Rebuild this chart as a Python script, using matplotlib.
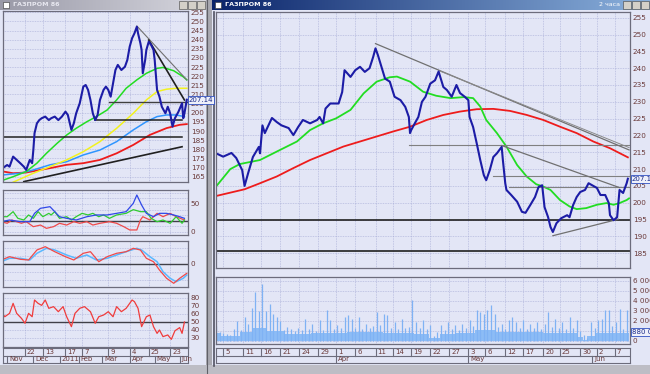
import numpy as np
import matplotlib
matplotlib.use('Agg')
import matplotlib.pyplot as plt
from matplotlib.patches import Rectangle
from matplotlib.colors import LinearSegmentedColormap
from matplotlib.transforms import offset_copy

# ---------------- data: small window (daily) ----------------
l_days = [2, 6, 8, 11, 14, 17, 20, 22, 25, 27, 28, 29, 31, 33, 35, 38, 41, 43, 46, 49, 52, 55, 57, 60,
          62, 64, 67, 70, 72, 74, 76, 78, 80, 82, 84, 87, 89, 91, 93, 95, 97, 99, 102, 105, 107, 109,
          111, 113, 115, 116, 118, 119, 120, 122, 123, 125, 127, 129, 130, 132, 134, 136, 139, 141,
          143, 145, 147, 150, 153, 154, 155, 157]
l_close = [169.6, 171.4, 170.5, 176.0, 174.2, 172.4, 170.5, 168.7, 174.2, 172.4, 179.6, 188.8, 194.2,
           196.0, 197.0, 197.9, 196.0, 197.0, 197.9, 196.0, 197.9, 200.6, 198.8, 190.6, 194.2, 199.7,
           205.2, 214.3, 215.2, 212.5, 207.0, 199.7, 196.0, 198.8, 207.0, 212.5, 214.3, 212.5, 208.8,
           216.1, 223.4, 226.2, 223.4, 225.2, 228.9, 236.2, 240.8, 243.5, 247.1, 243.5, 238.0, 234.4,
           221.6, 228.9, 234.4, 238.9, 237.1, 234.4, 228.9, 212.5, 208.8, 203.3, 199.7, 203.3, 199.7,
           192.4, 197.0, 200.6, 205.2, 197.0, 199.7, 207.14]

l_green_d = [3, 11, 22, 31, 39, 48, 56, 64, 73, 81, 90, 98, 106, 115, 123, 132, 137, 146, 154, 157]
l_green = [163.2, 165.0, 167.8, 172.4, 177.8, 183.3, 187.8, 191.5, 195.1, 197.9, 201.5, 207.0, 213.4,
           218.0, 221.6, 224.3, 224.8, 223.0, 219.7, 218.0]
l_yellow_d = [11, 28, 42, 56, 70, 84, 98, 112, 123, 132, 140, 148, 157]
l_yellow = [162.0, 166.9, 170.5, 174.2, 178.7, 184.2, 191.5, 199.7, 207.0, 211.6, 212.9, 213.4, 213.4]
l_blue_d = [3, 17, 28, 42, 56, 70, 84, 98, 112, 123, 132, 140, 148, 155]
l_blue = [166.0, 166.9, 168.7, 171.5, 173.2, 176.9, 179.6, 184.2, 190.6, 195.1, 197.9, 198.8, 198.8, 197.9]
l_red_d = [3, 11, 22, 42, 56, 70, 84, 98, 112, 126, 140, 151, 157]
l_red = [167.8, 166.9, 167.3, 169.7, 171.5, 172.4, 174.2, 177.8, 182.4, 187.9, 191.6, 193.4, 193.8]

l_adx_d = [1, 8, 17, 25, 29, 34, 42, 46, 50, 56, 64, 73, 81, 90, 98, 106, 112, 115, 119, 123, 129, 134,
           140, 146, 151, 155]
l_adx = [18.4, 21.4, 18.4, 18.4, 33.3, 42.3, 45.2, 36.3, 27.3, 24.4, 21.4, 27.3, 30.4, 30.4, 33.3, 36.3,
         51.2, 66.1, 48.2, 33.3, 27.3, 33.3, 33.3, 30.4, 27.3, 24.4]
l_pdi_d = [1, 6, 11, 15, 20, 24, 28, 32, 36, 41, 43, 46, 50, 56, 60, 64, 69, 74, 78, 83, 87, 92, 98, 106,
           112, 118, 123, 127, 132, 137, 143, 148, 153, 155]
l_pdi = [27.3, 27.3, 36.3, 24.4, 21.4, 30.4, 24.4, 36.3, 27.3, 33.3, 30.4, 36.3, 24.4, 27.3, 21.4, 27.3,
         33.3, 30.4, 33.3, 27.3, 30.4, 24.4, 30.4, 33.3, 39.9, 36.3, 36.3, 24.4, 18.4, 21.4, 15.5, 27.3,
         15.5, 21.4]
l_mdi_d = [1, 6, 10, 14, 18, 22, 28, 34, 39, 45, 50, 56, 62, 67, 73, 78, 84, 92, 98, 104, 109, 115, 118,
           120, 126, 132, 137, 143, 148, 155]
l_mdi = [18.4, 15.5, 21.4, 18.4, 15.5, 18.4, 9.5, 12.4, 6.5, 9.5, 15.5, 12.4, 18.4, 15.5, 18.4, 12.4,
         15.5, 18.4, 15.5, 9.5, 3.6, 3.6, 21.4, 27.3, 21.4, 33.3, 27.3, 33.3, 27.3, 21.4]

l_sig_d = [1, 8, 17, 25, 31, 39, 46, 56, 64, 73, 81, 90, 98, 106, 115, 119, 126, 132, 137, 143, 148, 154, 157]
l_sig = [2.3, 5.7, 5.7, 4.0, 10.7, 15.7, 14.0, 9.0, 5.7, 9.0, 4.0, 5.7, 9.0, 12.3, 15.7, 14.0, 7.3, 2.3,
         -7.7, -14.3, -17.7, -14.3, -11.0]
l_macd_d = [1, 8, 17, 24, 31, 38, 46, 55, 62, 70, 76, 83, 90, 98, 106, 112, 118, 123, 129, 134, 140, 146,
            151, 157]
l_macd = [4.0, 7.3, 4.7, 4.0, 14.0, 17.3, 12.3, 7.3, 4.0, 10.7, 12.3, 2.3, 7.3, 10.7, 12.3, 15.7, 14.0,
          5.7, 2.3, -6.0, -14.3, -19.3, -14.3, -9.3]

l_rsi_d = [1, 4, 8, 11, 14, 18, 21, 24, 27, 29, 32, 35, 38, 41, 45, 49, 53, 56, 60, 63, 67, 71, 76, 80,
           83, 87, 91, 95, 98, 102, 106, 111, 113, 116, 119, 123, 126, 129, 132, 134, 137, 141, 144, 147,
           151, 153, 155]
l_rsi = [62.9, 56.6, 60.8, 73.3, 60.8, 54.6, 48.4, 60.8, 56.6, 77.5, 73.3, 70.8, 77.5, 67.1, 69.2, 62.9,
         69.2, 56.6, 44.2, 60.8, 67.1, 69.2, 62.9, 48.4, 56.6, 58.7, 62.9, 56.6, 69.2, 62.9, 67.1, 77.5,
         75.4, 67.1, 44.2, 56.6, 58.7, 44.2, 35.8, 40.0, 31.7, 33.8, 28.3, 39.0, 43.0, 35.8, 50.0]

l_day_ticks = [21, 36, 55, 69, 91, 109, 125, 143]
l_day_labels = ['22', '13', '17', '7', '9', '4', '25', '23']
l_month_ticks = [6, 28, 50, 66, 86, 109, 130, 151]
l_month_labels = ['Nov', 'Dec', '2011', 'Feb', 'Mar', 'Apr', 'May', 'Jun']

# ---------------- data: big window (2-hour bars) ----------------
m_bar = [5, 11, 18, 22, 27, 29, 32, 36, 41, 42, 44, 46, 52, 56, 60, 66, 70, 74, 78, 84, 90, 92, 95, 97,
         101, 108, 111, 113, 118, 122, 126, 130, 134, 137, 139, 141, 144, 147, 151, 155, 160, 164, 167,
         168, 169, 172, 175, 178, 181, 185, 189, 192, 196, 199, 203, 207, 210, 214, 217, 218, 221, 224,
         227, 230, 232, 235, 238, 241, 245, 246, 248, 249, 253, 258, 262, 265, 269, 273, 276, 279, 281,
         284, 286, 288, 291, 295, 300, 302, 305, 308, 311, 315, 318, 321, 325, 328, 332, 335, 336, 339,
         342, 344, 347, 350, 351]
m_close = [214.7, 213.7, 214.8, 213.3, 209.7, 205.0, 208.8, 213.6, 216.6, 214.7, 223.0, 220.7, 225.2,
           224.0, 223.0, 222.2, 220.1, 222.5, 224.6, 223.6, 224.6, 225.5, 223.6, 228.0, 229.5, 229.5,
           232.9, 239.4, 237.4, 239.4, 240.4, 238.9, 240.0, 243.3, 245.9, 243.9, 240.4, 236.9, 236.0,
           231.5, 230.5, 228.5, 225.5, 220.7, 221.6, 223.6, 225.5, 230.0, 231.5, 235.4, 236.4, 239.0,
           234.4, 233.5, 231.5, 235.0, 232.6, 231.5, 230.5, 225.5, 222.5, 217.7, 212.7, 208.2, 206.7,
           209.7, 213.6, 214.7, 216.6, 212.7, 205.8, 203.8, 202.3, 200.3, 197.3, 197.0, 199.3, 201.7,
           204.7, 205.2, 198.7, 195.7, 192.8, 191.3, 193.9, 195.4, 196.3, 195.7, 199.3, 201.7, 203.2,
           203.8, 205.8, 205.2, 204.4, 202.3, 202.3, 199.9, 196.3, 194.8, 195.7, 203.8, 202.9, 205.8, 207.14]

m_green_b = [5, 17, 25, 42, 56, 73, 84, 95, 106, 118, 129, 140, 151, 157, 168, 179, 190, 202, 213, 221,
             227, 232, 241, 249, 258, 266, 274, 280, 286, 294, 302, 308, 316, 325, 333, 339, 344, 350, 352]
m_green = [204.8, 210.0, 211.5, 212.7, 215.2, 218.2, 221.6, 223.6, 225.1, 227.6, 232.5, 236.0, 237.3,
           237.5, 236.0, 233.0, 231.8, 231.1, 231.4, 231.1, 228.6, 224.6, 220.7, 216.7, 211.2, 207.8,
           205.5, 204.8, 203.8, 200.8, 198.9, 198.1, 198.4, 199.4, 199.9, 199.4, 199.9, 200.8, 201.3]
m_red_b = [5, 29, 42, 56, 70, 84, 98, 112, 126, 140, 154, 168, 182, 196, 210, 224, 238, 252, 266, 280,
           294, 308, 322, 336, 351]
m_red = [202.0, 204.0, 205.8, 207.8, 210.3, 212.7, 214.7, 216.7, 218.2, 219.7, 221.2, 222.6, 224.6,
         226.1, 227.1, 227.8, 227.9, 227.3, 226.1, 224.6, 222.6, 220.7, 218.2, 216.2, 213.5]

# volume, thousands of shares
vol_bar = list(range(5, 351, 3))
vol = [1500, 900, 800, 700, 600, 1200, 2000, 1100, 2400, 1700, 3300, 4850, 3000, 5680, 3000, 3680,
       2680, 2350, 2000, 1100, 1350, 1200, 1000, 1300, 1100, 2180, 1200, 1680, 1000, 2020, 1100, 3020,
       2020, 1200, 1520, 1300, 2350, 2520, 2180, 1300, 2350, 1200, 1680, 1300, 1500, 2850, 1600, 2680,
       2520, 1300, 1850, 1200, 2180, 1300, 1400, 4020, 1850, 1300, 2020, 1200, 1520, 500, 900, 1520,
       1100, 1850, 1200, 1520, 1100, 1680, 1300, 2020, 1500, 3020, 2850, 2680, 3020, 3520, 2680, 1400,
       1680, 1200, 2020, 2350, 1850, 1300, 2020, 1200, 1680, 1300, 1850, 1200, 1680, 2850, 1400, 2180,
       1300, 1850, 1200, 2350, 1300, 2020, 1000, 600, 300, 1850, 1300, 2020, 2180, 3020, 3020, 1500,
       1850, 3180, 1200, 3020]
vol_base_b = [5, 12, 20, 30, 40, 55, 70, 100, 130, 160, 182, 186, 190, 196, 215, 230, 250, 270, 290,
              306, 312, 315, 318, 330, 345, 352]
vol_base = [800, 500, 450, 900, 1300, 1000, 700, 800, 850, 800, 650, 250, 300, 700, 800, 1100, 900,
            850, 800, 750, 400, 100, 500, 800, 750, 800]
last_price = 207.14
last_volume = 880

m_day_ticks = [11, 28, 43, 59, 75, 91, 106, 122, 139, 154, 169, 185, 201, 217, 231, 248, 263, 280, 294,
               311, 325, 340]
m_day_labels = ['5', '11', '16', '21', '24', '29', '1', '6', '11', '14', '19', '22', '27', '3', '6',
                '12', '17', '20', '25', '30', '2', '7']
m_month_ticks = [106, 217, 321]
m_month_labels = ['Apr', 'May', 'Jun']

# ---------------- drawing ----------------
W, H = 650, 374
fig = plt.figure(figsize=(6.5, 3.74), dpi=100)
fig.patch.set_facecolor('#c4c4cc')

PANEL_BG = '#e3e6f6'
FRAME = '#6c6c7c'
LBL = '#6a3a3a'
GRID = dict(color='#a2a8d4', linestyle=(0, (1, 1.4)), linewidth=0.5)


def box(x0, y0, x1, y1):
    return [x0 / W, 1 - y1 / H, (x1 - x0) / W, (y1 - y0) / H]


def fig_rect(x0, y0, x1, y1, **kw):
    fig.add_artist(Rectangle((x0 / W, 1 - y1 / H), (x1 - x0) / W, (y1 - y0) / H,
                             transform=fig.transFigure, zorder=-10, **kw))


def panel(x0, y0, x1, y1, xlim, ylim):
    ax = fig.add_axes(box(x0, y0, x1, y1))
    ax.set_facecolor(PANEL_BG)
    ax.set_xlim(xlim)
    ax.set_ylim(ylim)
    for s in ax.spines.values():
        s.set_color(FRAME)
        s.set_linewidth(0.9)
    ax.yaxis.tick_right()
    ax.tick_params(axis='x', bottom=False, labelbottom=False, length=0)
    ax.tick_params(axis='y', length=0, pad=2, labelsize=5.2, labelcolor=LBL)
    ax.grid(True, **GRID)
    ax.set_axisbelow(True)
    return ax


def date_axis(x0, y0, x1, y1, xlim, dticks, dlabels, mticks, mlabels):
    ax = fig.add_axes(box(x0, y0, x1, y1))
    ax.set_facecolor(PANEL_BG)
    ax.set_xlim(xlim)
    ax.set_ylim(0, 2)
    ax.set_xticks([])
    ax.set_yticks([])
    for s in ax.spines.values():
        s.set_color(FRAME)
        s.set_linewidth(0.8)
    ax.axhline(1, color=FRAME, lw=0.8)
    tr = offset_copy(ax.transData, fig=fig, x=2, y=0, units='dots')
    for t, lab in zip(dticks, dlabels):
        ax.plot([t, t], [1, 2], color=FRAME, lw=0.8)
        ax.text(t, 1.5, lab, transform=tr, fontsize=5, color=LBL, va='center', ha='left')
    for t, lab in zip(mticks, mlabels):
        ax.plot([t, t], [0, 1], color=FRAME, lw=0.8)
        ax.text(t, 0.5, lab, transform=tr, fontsize=5, color=LBL, va='center', ha='left')
    return ax


def value_box(ax, y, text, color='#1a2a8a'):
    ax.text(1.004, y, text, transform=ax.get_yaxis_transform(), fontsize=5, color=color,
            va='center', ha='left', clip_on=False, zorder=10,
            bbox=dict(boxstyle='square,pad=0.15', fc='#eef0fa', ec='#3050c0', lw=0.6))


# window client areas
fig_rect(0, 10, 206, 366, fc=PANEL_BG, ec='none')
fig_rect(212, 10, 650, 366, fc=PANEL_BG, ec='none')
fig_rect(206, 0, 212, 374, fc='#a8a8b0', ec='none')
fig_rect(0, 365, 650, 374, fc='#bdbdc5', ec='none')
fig.add_artist(plt.Line2D([213.5 / W] * 2, [1 - 12 / H, 1 - 366 / H], color='#505060', lw=1.2, zorder=-5))
fig.add_artist(plt.Line2D([207 / W] * 2, [0, 1], color='#606068', lw=0.8, zorder=-5))

# title bars
grad = np.linspace(0, 1, 256)[None, :]
for (x0, x1, c0, c1, title, tcol) in [(0, 206, '#9a9aa8', '#d6d6de', 'ГАЗПРОМ 86', '#e8e8f0'),
                                       (212, 650, '#0a246a', '#8ab0dc', 'ГАЗПРОМ 86', 'white')]:
    tax = fig.add_axes(box(x0, 0, x1, 10))
    tax.imshow(grad, aspect='auto', extent=(0, 1, 0, 1),
               cmap=LinearSegmentedColormap.from_list('tb', [c0, c1]))
    tax.set_xlim(0, 1)
    tax.set_ylim(0, 1)
    tax.axis('off')
    tax.add_patch(Rectangle((3 / (x1 - x0), 0.2), 6 / (x1 - x0), 0.6, fc='white', ec='#303030', lw=0.4))
    tax.text(13 / (x1 - x0), 0.5, title, color=tcol, fontsize=4.6, fontweight='bold', va='center')
    for k in range(3):
        tax.add_patch(Rectangle((1 - (k + 1) * 9 / (x1 - x0), 0.12), 8 / (x1 - x0), 0.76,
                                fc='#d4d0c8', ec='#404040', lw=0.4))
    if x0 == 212:
        tax.text(1 - 30 / (x1 - x0), 0.5, '2 часа', color='white', fontsize=4.6, va='center', ha='right')

# ----- small window -----
lx = (2.5, 158)
ax = panel(3, 11, 188, 182, lx, (162.1, 255.7))
ax.set_yticks(np.arange(165, 256, 5))
ax.set_xticks(l_day_ticks)
ax.plot(l_red_d, l_red, color='#ee1c1c', lw=1.3)
ax.plot(l_blue_d, l_blue, color='#2f95ff', lw=1.1)
ax.plot(l_yellow_d, l_yellow, color='#f2f21e', lw=1.1)
ax.plot(l_green_d, l_green, color='#22dd22', lw=1.1)
ax.plot([20, 153], [162.3, 181.4], color='#202020', lw=1.2)
ax.plot([0, 153], [186.9, 186.9], color='#202020', lw=1.1)
ax.plot([80, 153], [196.0, 196.0], color='#202020', lw=1.1)
ax.plot([92, 157], [206.1, 206.1], color='#404040', lw=1.0)
ax.plot([115, 157], [247.5, 218.0], color='#707070', lw=0.8)
ax.plot([125, 155], [239.8, 207.0], color='#202020', lw=1.2)
ax.plot(l_days, l_close, color='#1c1ca6', lw=1.5)
value_box(ax, last_price, f'{last_price:.2f}')

ax = panel(3, 190, 188, 235, lx, (-5.4, 75))
ax.set_yticks([0, 10, 20, 30, 40, 50, 60, 70])
ax.set_yticklabels(['0', '', '', '', '', '50', '', ''])
ax.set_xticks(l_day_ticks)
ax.axhline(20, color='#404048', lw=1.0)
ax.plot(l_mdi_d, l_mdi, color='#f04a4a', lw=0.9)
ax.plot(l_pdi_d, l_pdi, color='#30cc30', lw=0.9)
ax.plot(l_adx_d, l_adx, color='#3048e8', lw=0.9)

ax = panel(3, 241, 188, 287, lx, (-23, 23))
ax.set_yticks([-16, -8, 0, 8, 16])
ax.set_yticklabels(['', '', '0', '', ''])
ax.set_xticks(l_day_ticks)
ax.axhline(0, color='#404048', lw=1.0)
ax.plot(l_sig_d, l_sig, color='#5ab8ff', lw=1.1)
ax.plot(l_macd_d, l_macd, color='#f04a4a', lw=0.9)

ax = panel(3, 293, 188, 347, lx, (18.75, 86.25))
ax.set_yticks([30, 40, 50, 60, 70, 80])
ax.set_xticks(l_day_ticks)
ax.axhline(50, color='#404048', lw=1.0)
ax.plot(l_rsi_d, l_rsi, color='#f03c3c', lw=0.9)

date_axis(3, 348, 188, 363, lx, l_day_ticks, l_day_labels, l_month_ticks, l_month_labels)

# ----- big window -----
mx = (5.0, 352.8)
ax = panel(216, 12, 630, 268, mx, (180.6, 256.7))
ax.set_yticks(np.arange(185, 256, 5))
ax.set_xticks(m_day_ticks)
ax.plot(m_red_b, m_red, color='#ee1c1c', lw=1.3)
ax.plot(m_green_b, m_green, color='#22dd22', lw=1.3)
ax.plot([5, 352.8], [194.9, 194.9], color='#202020', lw=1.2)
ax.plot([5, 352.8], [185.7, 185.7], color='#202020', lw=1.2)
ax.plot([167, 352.8], [217.2, 217.2], color='#808080', lw=0.8)
ax.plot([238, 352.8], [208.0, 208.0], color='#808080', lw=0.8)
ax.plot([251, 352.8], [204.8, 204.8], color='#808080', lw=0.8)
ax.plot([139, 352], [247.3, 215.7], color='#707070', lw=0.9)
ax.plot([192, 352], [239.3, 216.4], color='#8a8a8a', lw=0.7)
ax.plot([245, 344], [217.0, 204.5], color='#707070', lw=0.9)
ax.plot([288, 343], [190.2, 195.1], color='#707070', lw=0.9)
ax.plot(m_bar, m_close, color='#1c1ca6', lw=1.5)
value_box(ax, last_price, f'{last_price:.2f}')

ax = panel(216, 277, 630, 344, mx, (-350, 6350))
ax.set_yticks([0, 1000, 2000, 3000, 4000, 5000, 6000])
ax.set_yticklabels(['0', ''] + [f'{v * 1000:,}'.replace(',', ' ') for v in (2000, 3000, 4000, 5000, 6000)])
ax.set_xticks(m_day_ticks)
ax.fill_between(vol_base_b, 0, vol_base, color='#8cbcf6', lw=0, step='mid')
ax.vlines(vol_bar, 0, vol, color='#7fb2f4', lw=0.9)
value_box(ax, last_volume, f'{last_volume * 1000:,}'.replace(',', ' '))

date_axis(216, 348, 630, 363, mx, m_day_ticks, m_day_labels, m_month_ticks, m_month_labels)

fig.savefig('out.png', dpi=100, facecolor=fig.get_facecolor())
